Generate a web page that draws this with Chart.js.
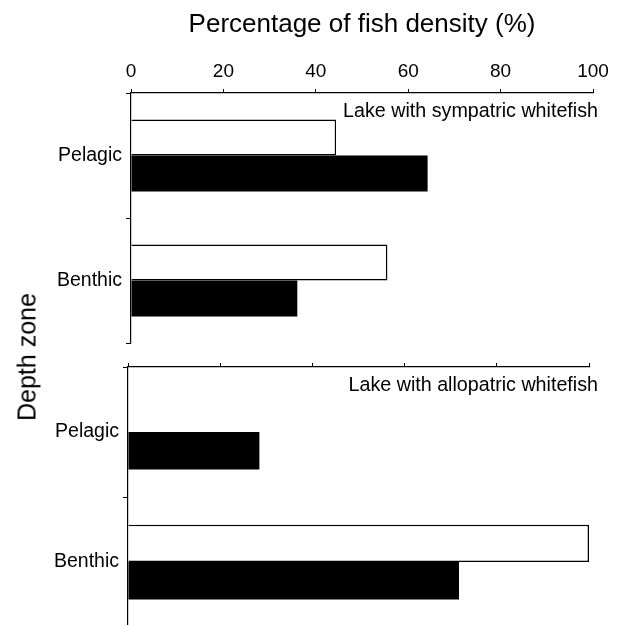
<!DOCTYPE html>
<html lang="en">
<head>
<meta charset="UTF-8">
<title>Fish density by depth zone</title>
<script src="https://cdn.jsdelivr.net/npm/chart.js"></script>
<style>
  body { margin: 0; width: 635px; height: 625px; overflow: hidden; background: #fff; position: relative;
         font-family: "Liberation Sans", Arial, sans-serif; }
  #yTitle { position: absolute; left: 27px; top: 357px; transform: translate(-50%, -50%) rotate(-90deg);
            font-size: 25px; white-space: nowrap; color: #000; }
</style>
</head>
<body>
<canvas id="topChart" width="635" height="345" style="position:absolute;left:0;top:0"></canvas>
<canvas id="botChart" width="635" height="285" style="position:absolute;left:0;top:345px"></canvas>
<div id="yTitle">Depth zone</div>

<script>
// data
const zones = ['Pelagic', 'Benthic'];
const xTicks = [0, 20, 40, 60, 80, 100];
const sympOpen = [44.4, 55.5];
const sympFilled = [64.2, 36.0];
const alloOpen = [0, 100];
const alloFilled = [28.5, 71.8];
const panelNames = ['Lake with sympatric whitefish', 'Lake with allopatric whitefish'];
const xTitle = 'Percentage of fish density (%)';

Chart.defaults.font.family = '"Liberation Sans", Arial, sans-serif';
Chart.defaults.color = '#000';

// panel caption in the top-right corner
const panelLabel = {
  id: 'panelLabel',
  afterDraw(chart, args, opts) {
    const ctx = chart.ctx;
    ctx.save();
    ctx.font = '19.7px "Liberation Sans", Arial, sans-serif';
    ctx.fillStyle = '#000';
    ctx.textAlign = 'right';
    ctx.textBaseline = 'middle';
    ctx.fillText(opts.text, chart.chartArea.right + opts.dx, chart.chartArea.top + opts.dy);
    ctx.restore();
  }
};

function makePanel(id, open, filled, opt) {
  const ctx = document.getElementById(id).getContext('2d');
  return new Chart(ctx, {
    type: 'bar',
    data: {
      labels: zones,
      datasets: [{
        label: 'open',
        data: open,
        backgroundColor: '#fff',
        borderColor: '#000',
        borderWidth: 1.5
      }, {
        label: 'filled',
        data: filled,
        backgroundColor: '#000',
        borderColor: '#000',
        borderWidth: 0
      }]
    },
    options: {
      indexAxis: 'y',
      responsive: false,
      animation: false,
      categoryPercentage: 0.575,
      barPercentage: 1,
      layout: { padding: { left: 0, right: opt.right, top: 0, bottom: opt.bottom } },
      plugins: {
        legend: { display: false },
        tooltip: { enabled: false },
        panelLabel: { text: opt.caption, dx: opt.dx, dy: opt.dy }
      },
      scales: {
        x: {
          position: 'top',
          min: 0,
          max: 100,
          afterBuildTicks: s => { s.ticks = xTicks.map(v => ({ value: v })); },
          afterFit: s => { s.height = opt.top; s.paddingLeft = 0; s.paddingRight = 0; },
          ticks: { display: opt.showLabels, font: { size: 19 }, padding: 6 },
          grid: { drawOnChartArea: false, color: '#000', tickLength: 4, lineWidth: 1 },
          border: { color: '#000', width: 1.2 },
          title: {
            display: opt.showLabels,
            text: xTitle,
            font: { size: 26 },
            padding: { top: 9, bottom: 0 }
          }
        },
        y: {
          afterFit: s => { s.width = opt.left; s.paddingTop = 0; s.paddingBottom = 0; },
          ticks: { font: { size: 19.5 }, padding: 4 },
          grid: { drawOnChartArea: false, color: '#000', tickLength: 5, lineWidth: 1 },
          border: { color: '#000', width: 1.2 }
        }
      }
    },
    plugins: [panelLabel]
  });
}

makePanel('topChart', sympOpen, sympFilled,
  { left: 131, right: 42, top: 93, bottom: 2, showLabels: true, caption: panelNames[0], dx: 5, dy: 19 });
makePanel('botChart', alloOpen, alloFilled,
  { left: 128, right: 46, top: 22, bottom: 3, showLabels: false, caption: panelNames[1], dx: 9, dy: 19 });
</script>
</body>
</html>
